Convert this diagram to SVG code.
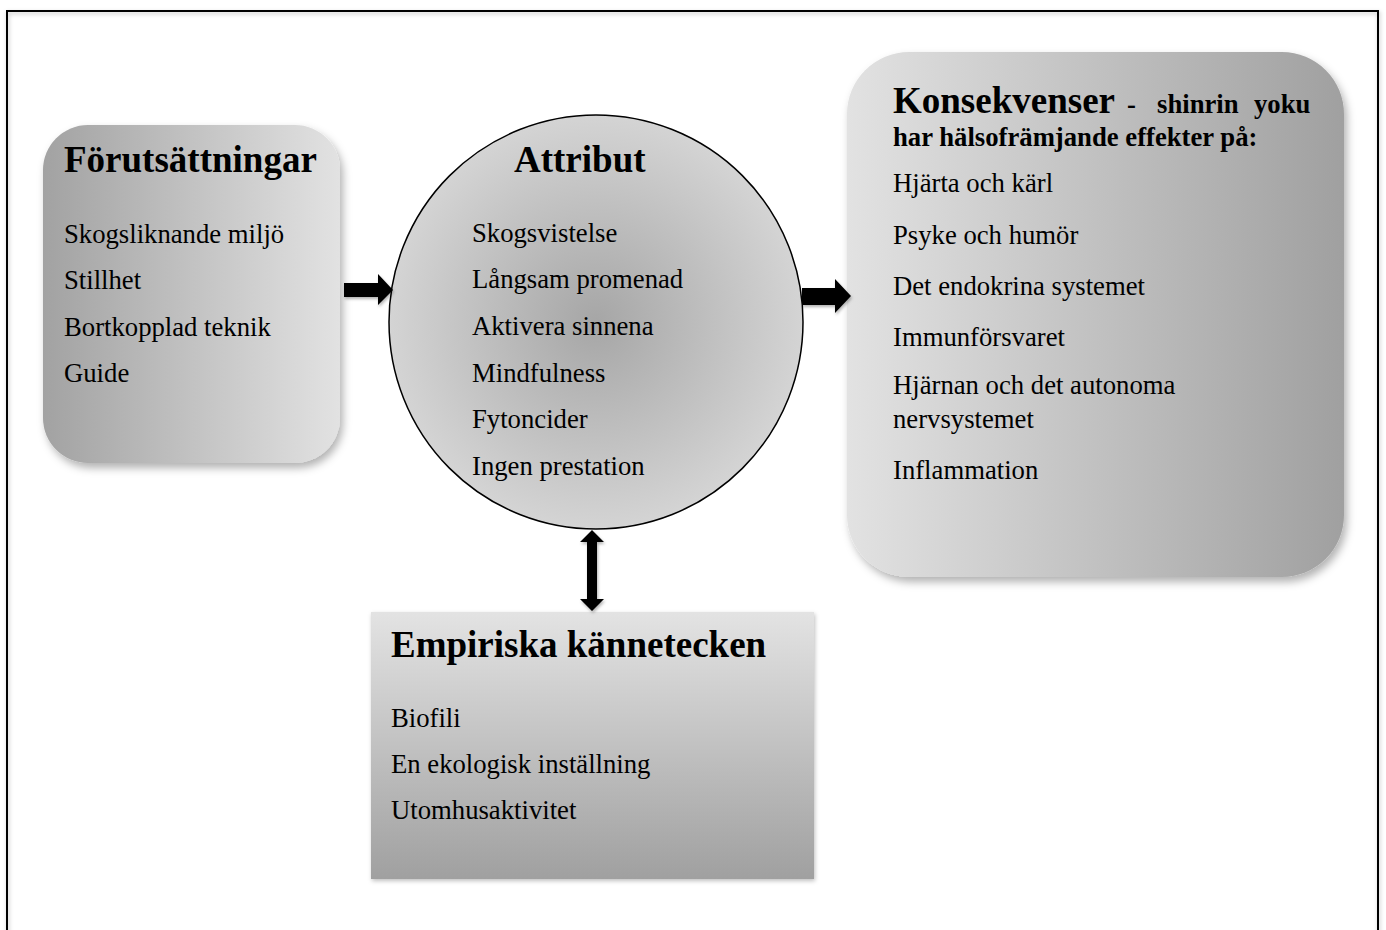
<svg xmlns="http://www.w3.org/2000/svg" width="1386" height="930" viewBox="0 0 1386 930">
<defs>
<linearGradient id="gLeft" x1="0" y1="0" x2="1" y2="0">
<stop offset="0" stop-color="#a2a2a2"/><stop offset="1" stop-color="#e2e2e2"/>
</linearGradient>
<linearGradient id="gRight" x1="0" y1="0" x2="1" y2="0">
<stop offset="0" stop-color="#e2e2e2"/><stop offset="1" stop-color="#a0a0a0"/>
</linearGradient>
<linearGradient id="gBottom" x1="0" y1="0" x2="0" y2="1">
<stop offset="0" stop-color="#e3e3e3"/><stop offset="1" stop-color="#a0a0a0"/>
</linearGradient>
<radialGradient id="gCircle" cx="0.5" cy="0.5" r="0.5">
<stop offset="0" stop-color="#a6a6a6"/><stop offset="1" stop-color="#d4d4d4"/>
</radialGradient>
<filter id="shadow" x="-10%" y="-10%" width="125%" height="125%">
<feDropShadow dx="3" dy="5" stdDeviation="4" flood-color="#000" flood-opacity="0.3"/>
</filter>
<filter id="ashadow" x="-20%" y="-20%" width="150%" height="150%">
<feDropShadow dx="1" dy="2" stdDeviation="1.5" flood-color="#000" flood-opacity="0.3"/>
</filter>
<filter id="bshadow" x="-5%" y="-5%" width="110%" height="110%">
<feDropShadow dx="1" dy="2" stdDeviation="2" flood-color="#000" flood-opacity="0.25"/>
</filter>
</defs>
<style>
.t{font-family:"Liberation Serif","Times New Roman",serif;fill:#000}
.h{font-size:37px;font-weight:bold}
.i{font-size:26.7px}
.b{font-size:26.7px;font-weight:bold}
.arrow{fill:#000;filter:url(#ashadow)}
</style>
<rect x="0" y="0" width="1386" height="930" fill="#fff"/>
<rect x="7" y="11" width="1371" height="1000" fill="none" stroke="#000" stroke-width="2" filter="url(#bshadow)"/>

<g id="forutsattningar">
<rect x="43" y="125" width="297" height="338" rx="45" ry="45" fill="url(#gLeft)" filter="url(#shadow)"/>
<text class="t h" x="64" y="172">Förutsättningar</text>
<text class="t i" x="64" y="243">Skogsliknande miljö</text>
<text class="t i" x="64" y="289">Stillhet</text>
<text class="t i" x="64" y="336">Bortkopplad teknik</text>
<text class="t i" x="64" y="382">Guide</text>
</g>

<g id="attribut">
<circle cx="596" cy="322" r="207" fill="url(#gCircle)" stroke="#000" stroke-width="1.5"/>
<text class="t h" x="514" y="172">Attribut</text>
<text class="t i" x="472" y="242">Skogsvistelse</text>
<text class="t i" x="472" y="288">Långsam promenad</text>
<text class="t i" x="472" y="335">Aktivera sinnena</text>
<text class="t i" x="472" y="382">Mindfulness</text>
<text class="t i" x="472" y="428">Fytoncider</text>
<text class="t i" x="472" y="475">Ingen prestation</text>
</g>

<g id="konsekvenser">
<rect x="847" y="52" width="497" height="525" rx="62" ry="62" fill="url(#gRight)" filter="url(#shadow)"/>
<text class="t h" x="893" y="113">Konsekvenser</text>
<text class="t b" y="113"><tspan x="1127">-</tspan><tspan x="1157">shinrin</tspan><tspan x="1254">yoku</tspan></text>
<text class="t b" x="893" y="146">har hälsofrämjande effekter på:</text>
<text class="t i" x="893" y="192">Hjärta och kärl</text>
<text class="t i" x="893" y="244">Psyke och humör</text>
<text class="t i" x="893" y="295">Det endokrina systemet</text>
<text class="t i" x="893" y="346">Immunförsvaret</text>
<text class="t i" x="893" y="394">Hjärnan och det autonoma</text>
<text class="t i" x="893" y="428">nervsystemet</text>
<text class="t i" x="893" y="479">Inflammation</text>
</g>

<g id="empiriska">
<rect x="371" y="612" width="443" height="267" fill="url(#gBottom)" filter="url(#bshadow)"/>
<text class="t h" x="391" y="657">Empiriska kännetecken</text>
<text class="t i" x="391" y="727">Biofili</text>
<text class="t i" x="391" y="773">En ekologisk inställning</text>
<text class="t i" x="391" y="819">Utomhusaktivitet</text>
</g>

<g id="connectors">
<polygon class="arrow" points="344,283 378,283 378,274 393,290 378,305 378,297 344,297"/>
<polygon class="arrow" points="802,288 835,288 835,279 851,296 835,313 835,305 802,305"/>
<polygon class="arrow" points="592,530 604,542 597,542 597,599 604,599 592,611 580,599 587,599 587,542 580,542"/>
</g>
</svg>
